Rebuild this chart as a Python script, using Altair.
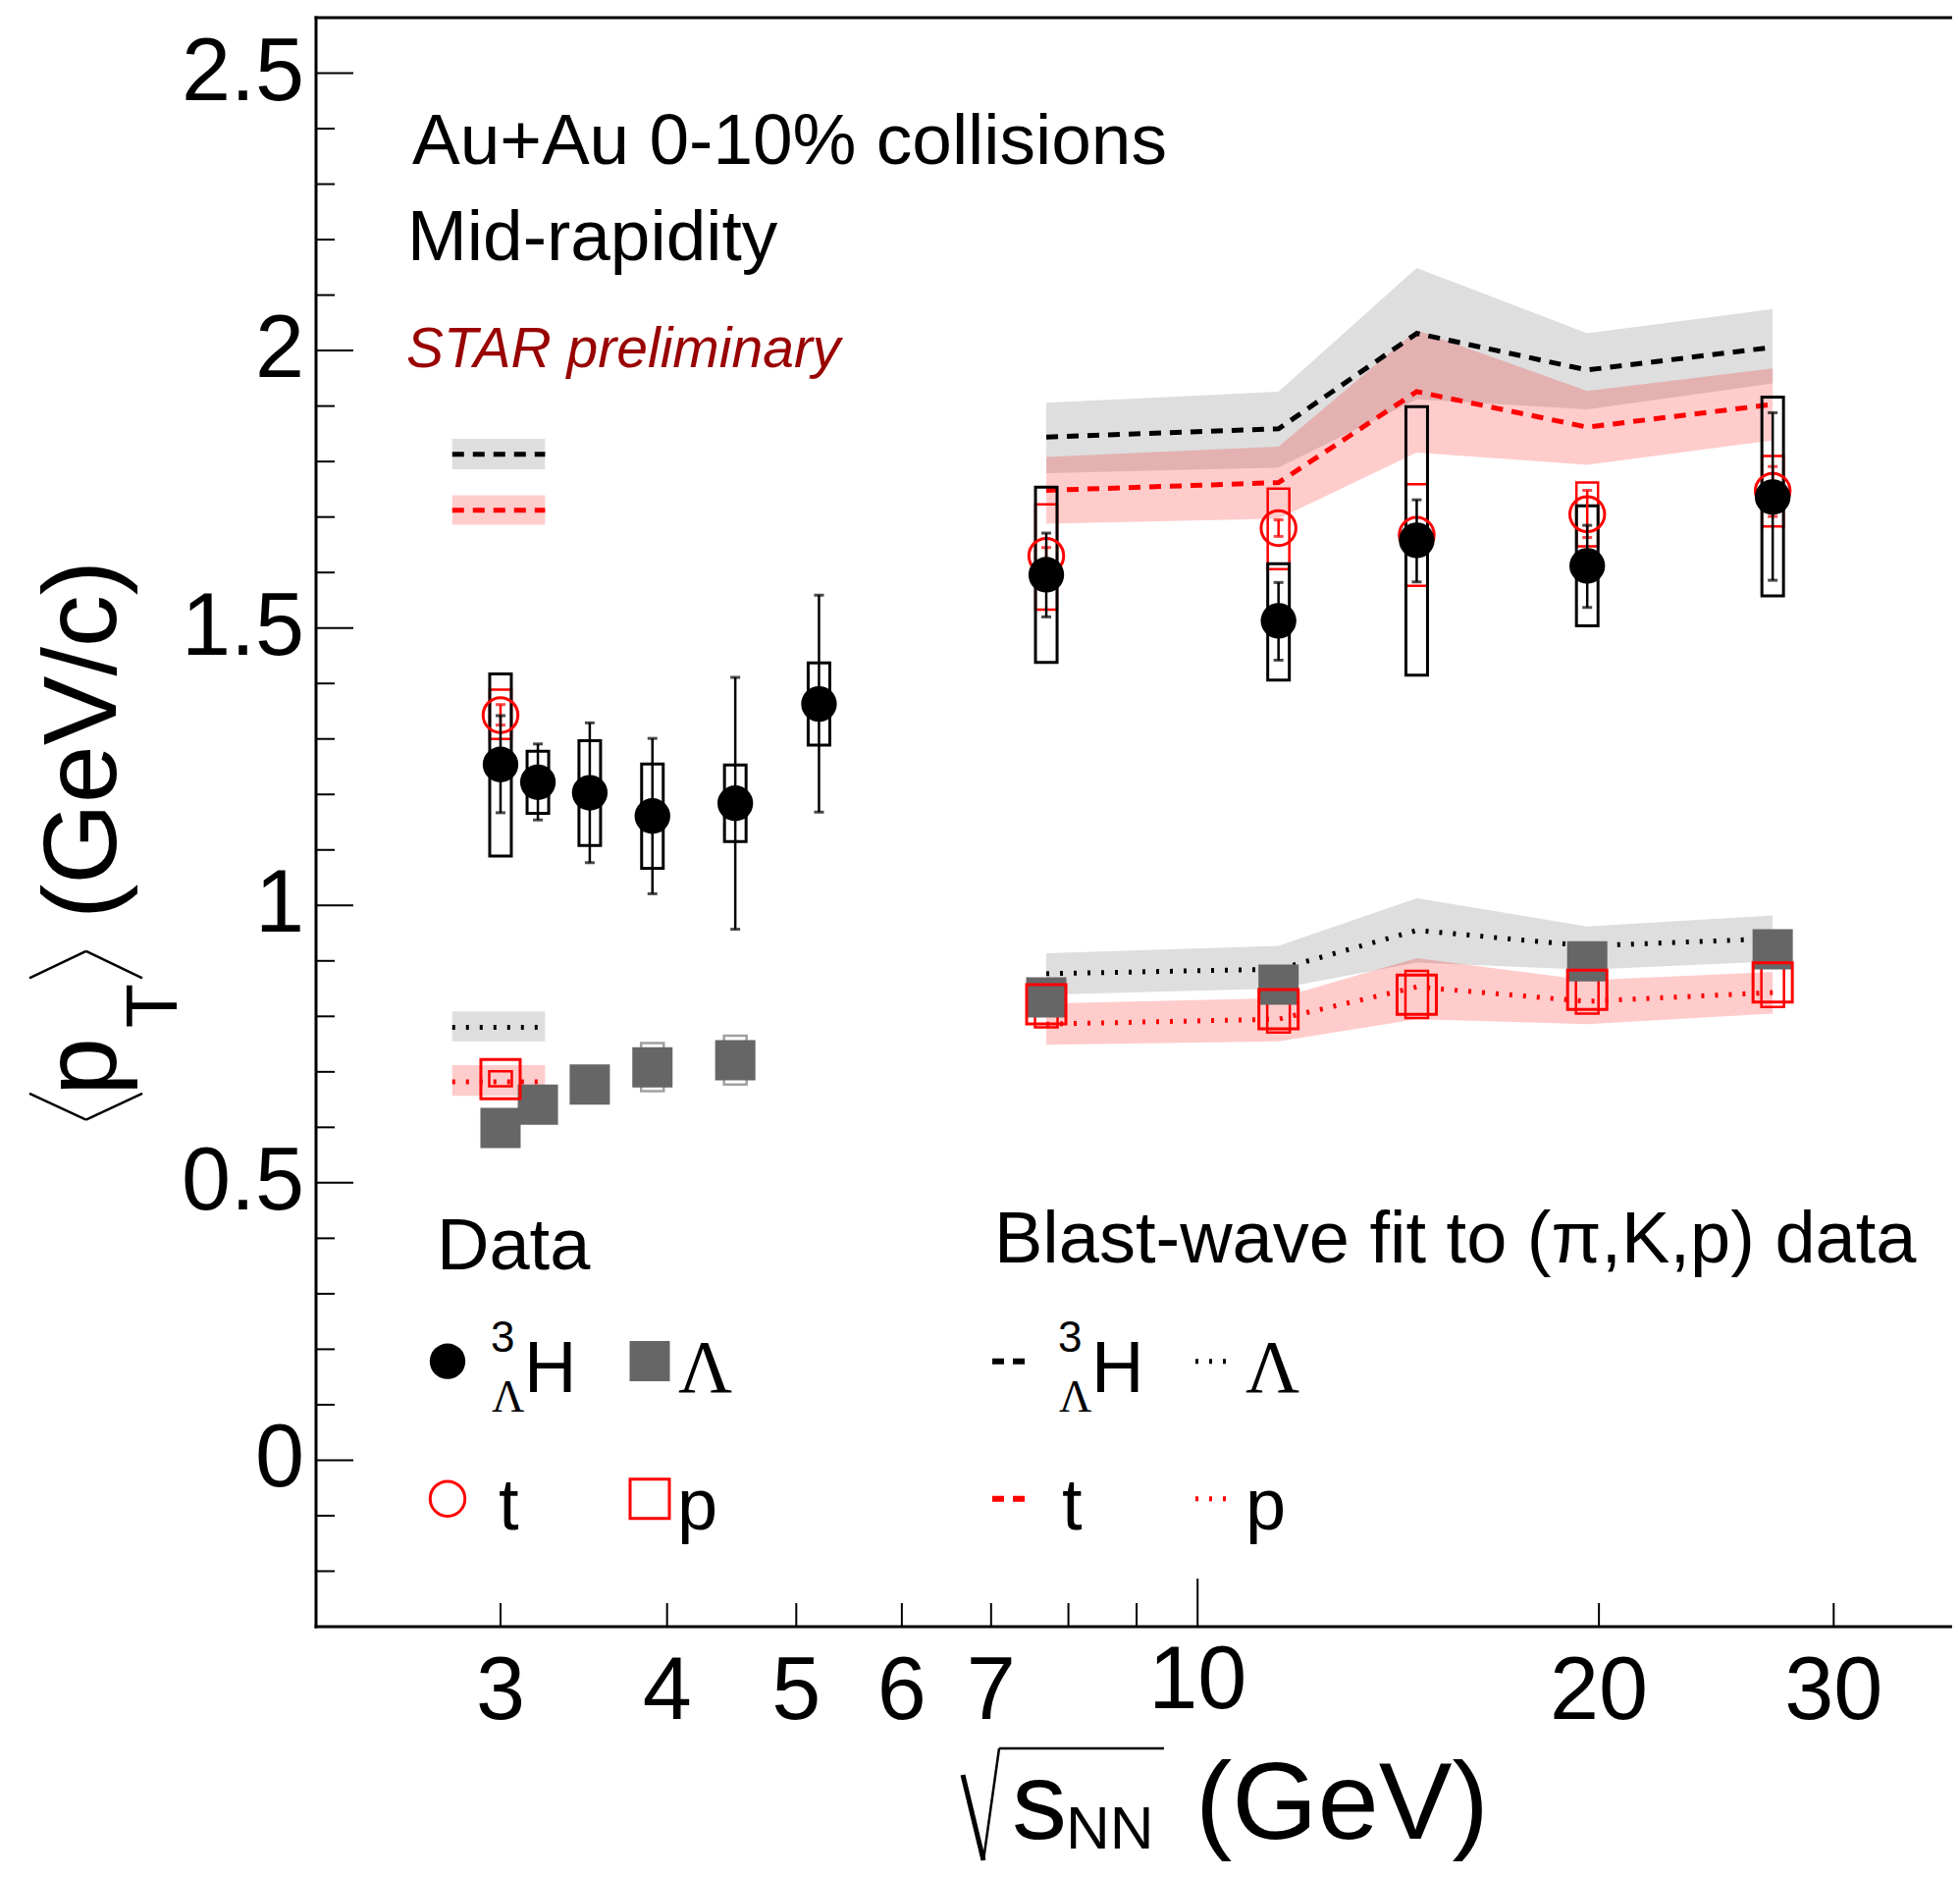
import altair as alt
import pandas as pd

FONT = "Liberation Sans"
SERIF = "Liberation Serif"

# ---------------- data ----------------
# Hypertriton <pT>
E_H = [3.0, 3.2, 3.5, 3.9, 4.5, 5.2, 7.7, 11.5, 14.6, 19.6, 27.0]
H_MEAN = [1.254, 1.222, 1.203, 1.161, 1.184, 1.363, 1.596, 1.513, 1.658, 1.612, 1.736]
H_STAT_LO = [1.167, 1.154, 1.077, 1.021, 0.957, 1.168, 1.520, 1.442, 1.583, 1.537, 1.586]
H_STAT_HI = [1.342, 1.291, 1.329, 1.301, 1.411, 1.559, 1.671, 1.582, 1.731, 1.685, 1.888]
H_SYS_LO = [1.089, 1.166, 1.108, 1.067, 1.115, 1.289, 1.438, 1.406, 1.415, 1.504, 1.558]
H_SYS_HI = [1.417, 1.278, 1.297, 1.255, 1.253, 1.437, 1.754, 1.616, 1.899, 1.720, 1.916]

# Triton <pT>
E_T = [3.0, 7.7, 11.5, 14.6, 19.6, 27.0]
T_MEAN = [1.343, 1.630, 1.680, 1.668, 1.705, 1.747]
T_STAT_LO = [1.325, 1.615, 1.665, 1.653, 1.663, 1.701]
T_STAT_HI = [1.362, 1.645, 1.695, 1.683, 1.748, 1.791]
T_SYS_LO = [1.300, 1.533, 1.606, 1.576, 1.647, 1.683]
T_SYS_HI = [1.389, 1.723, 1.751, 1.759, 1.762, 1.810]

# Lambda <pT>
E_L = [3.0, 3.2, 3.5, 3.9, 4.5, 7.7, 11.5, 19.6, 27.0]
L_MEAN = [0.599, 0.641, 0.677, 0.708, 0.721, 0.834, 0.857, 0.899, 0.921]
L_SYS_LO = [0.585, 0.625, 0.660, 0.665, 0.677, 0.820, 0.840, 0.880, 0.900]
L_SYS_HI = [0.615, 0.655, 0.695, 0.752, 0.765, 0.850, 0.870, 0.920, 0.940]

# Proton <pT>
E_P = [3.0, 7.7, 11.5, 14.6, 19.6, 27.0]
P_MEAN = [0.687, 0.822, 0.813, 0.839, 0.848, 0.861]
P_SYS_LO = [0.674, 0.780, 0.771, 0.797, 0.805, 0.817]
P_SYS_HI = [0.701, 0.863, 0.854, 0.882, 0.892, 0.905]

# Blast-wave predictions, BES energies
E_BW = [7.7, 11.5, 14.6, 19.6, 27.0]
BW_H = [1.844, 1.859, 2.031, 1.965, 2.006]
BW_H_LO = [1.779, 1.789, 1.912, 1.894, 1.941]
BW_H_HI = [1.906, 1.926, 2.149, 2.031, 2.075]
BW_T = [1.748, 1.762, 1.926, 1.862, 1.903]
BW_T_LO = [1.688, 1.697, 1.816, 1.794, 1.838]
BW_T_HI = [1.808, 1.827, 2.037, 1.927, 1.968]
BW_L = [0.877, 0.885, 0.955, 0.927, 0.940]
BW_L_LO = [0.839, 0.850, 0.897, 0.884, 0.899]
BW_L_HI = [0.914, 0.927, 1.013, 0.962, 0.982]
BW_P = [0.786, 0.795, 0.853, 0.827, 0.843]
BW_P_LO = [0.749, 0.755, 0.795, 0.786, 0.805]
BW_P_HI = [0.823, 0.833, 0.905, 0.865, 0.880]

# Blast-wave predictions at 3 GeV (short segments)
BW3_X = [2.76, 3.24]
BW3_SPECIES = ["H", "t", "L", "p"]
BW3_MEAN = [1.813, 1.712, 0.780, 0.682]
BW3_LO = [1.786, 1.686, 0.755, 0.657]
BW3_HI = [1.841, 1.739, 0.809, 0.712]

# axes
X_DOMAIN = [2.2, 36.5]
Y_DOMAIN = [-0.3, 2.6]
Y_MAJOR = [0, 0.5, 1, 1.5, 2, 2.5]
Y_LABELS = ["0", "0.5", "1", "1.5", "2", "2.5"]
Y_MINOR = [round(i * 0.1, 1) for i in range(-2, 26) if i % 5 != 0]
X_MINOR = [3, 4, 5, 6, 7, 8, 9, 20, 30]
X_MAJOR = [10]
X_LABELS_LOW = [3, 4, 5, 6, 7, 20, 30]
X_LABELS_HIGH = [10]

# ---------------- geometry ----------------
W, H = 1667, 1639
OX, OY = 322, 18  # page position of plot origin


def px(x):
    return x - OX


def py(y):
    return y - OY


X_SC = alt.Scale(type="log", domain=X_DOMAIN, nice=False)
Y_SC = alt.Scale(domain=Y_DOMAIN, nice=False, zero=False)


def X(f):
    return alt.X(f, type="quantitative", scale=X_SC, axis=None)


def Y(f):
    return alt.Y(f, type="quantitative", scale=Y_SC, axis=None)


ONE = alt.Data(values=[{"k": 0}])

h_df = pd.DataFrame({"e": E_H, "m": H_MEAN, "slo": H_STAT_LO, "shi": H_STAT_HI,
                     "ylo": H_SYS_LO, "yhi": H_SYS_HI})
t_df = pd.DataFrame({"e": E_T, "m": T_MEAN, "slo": T_STAT_LO, "shi": T_STAT_HI,
                     "ylo": T_SYS_LO, "yhi": T_SYS_HI})
l_df = pd.DataFrame({"e": E_L, "m": L_MEAN, "ylo": L_SYS_LO, "yhi": L_SYS_HI})
p_df = pd.DataFrame({"e": E_P, "m": P_MEAN, "ylo": P_SYS_LO, "yhi": P_SYS_HI})
bw_df = pd.DataFrame({"e": E_BW,
                      "h": BW_H, "hlo": BW_H_LO, "hhi": BW_H_HI,
                      "t": BW_T, "tlo": BW_T_LO, "thi": BW_T_HI,
                      "l": BW_L, "llo": BW_L_LO, "lhi": BW_L_HI,
                      "p": BW_P, "plo": BW_P_LO, "phi": BW_P_HI})
bw3_df = pd.DataFrame({"s": BW3_SPECIES, "m": BW3_MEAN, "lo": BW3_LO, "hi": BW3_HI,
                       "x1": [BW3_X[0]] * 4, "x2": [BW3_X[1]] * 4})

GRAY_BAND = "#dedede"
PINK = "#ff0000"
LGRAY = "#666666"
DASH = [12, 9]
DOT = [3, 11]

layers = []

# ---------------- bands ----------------
for lo, hi in [("hlo", "hhi"), ("llo", "lhi")]:
    layers.append(alt.Chart(bw_df).mark_area(color=GRAY_BAND, opacity=1).encode(
        x=X("e"), y=Y(lo), y2=alt.Y2(hi)))
for sp in ["H", "L"]:
    layers.append(alt.Chart(bw3_df).transform_filter(alt.datum.s == sp).mark_rect(
        color=GRAY_BAND, opacity=1).encode(x=X("x1"), x2=alt.X2("x2"), y=Y("lo"), y2=alt.Y2("hi")))
for lo, hi in [("tlo", "thi"), ("plo", "phi")]:
    layers.append(alt.Chart(bw_df).mark_area(color=PINK, opacity=0.2).encode(
        x=X("e"), y=Y(lo), y2=alt.Y2(hi)))
for sp in ["t", "p"]:
    layers.append(alt.Chart(bw3_df).transform_filter(alt.datum.s == sp).mark_rect(
        color=PINK, opacity=0.2).encode(x=X("x1"), x2=alt.X2("x2"), y=Y("lo"), y2=alt.Y2("hi")))

# ---------------- blast-wave lines ----------------
for col, color, dash in [("h", "black", DASH), ("t", "red", DASH), ("l", "black", DOT), ("p", "red", DOT)]:
    layers.append(alt.Chart(bw_df).mark_line(color=color, strokeWidth=5, strokeDash=dash).encode(
        x=X("e"), y=Y(col)))
for sp, color, dash in [("H", "black", DASH), ("t", "red", DASH), ("L", "black", DOT), ("p", "red", DOT)]:
    layers.append(alt.Chart(bw3_df).transform_filter(alt.datum.s == sp).mark_rule(
        color=color, strokeWidth=5, strokeDash=dash).encode(x=X("x1"), x2=alt.X2("x2"), y=Y("m")))

# ---------------- systematic boxes ----------------
layers.append(alt.Chart(t_df).mark_bar(size=22, fillOpacity=0, stroke="red", strokeWidth=2.5).encode(
    x=X("e"), y=Y("ylo"), y2=alt.Y2("yhi")))
layers.append(alt.Chart(p_df).mark_bar(size=23, fillOpacity=0, stroke="red", strokeWidth=2.5).encode(
    x=X("e"), y=Y("ylo"), y2=alt.Y2("yhi")))
layers.append(alt.Chart(l_df).mark_bar(size=23, fillOpacity=0, stroke="#a0a0a0", strokeWidth=2.5).encode(
    x=X("e"), y=Y("ylo"), y2=alt.Y2("yhi")))
layers.append(alt.Chart(h_df).mark_bar(size=22, fillOpacity=0, stroke="black", strokeWidth=3).encode(
    x=X("e"), y=Y("ylo"), y2=alt.Y2("yhi")))

# ---------------- markers ----------------
layers.append(alt.Chart(l_df).mark_point(shape="square", filled=True, size=1681, color=LGRAY, opacity=1).encode(
    x=X("e"), y=Y("m")))
layers.append(alt.Chart(p_df).mark_point(shape="square", filled=False, size=1600, color="red",
                                         strokeWidth=3, opacity=1).encode(x=X("e"), y=Y("m")))
layers.append(alt.Chart(t_df).mark_rule(color="red", strokeWidth=2.5).encode(
    x=X("e"), y=Y("slo"), y2=alt.Y2("shi")))
for f in ["slo", "shi"]:
    layers.append(alt.Chart(t_df).mark_tick(orient="horizontal", size=10, thickness=3, color="red").encode(
        x=X("e"), y=Y(f)))
layers.append(alt.Chart(t_df).mark_point(shape="circle", filled=False, size=1257, color="red",
                                         strokeWidth=3, opacity=1).encode(x=X("e"), y=Y("m")))
layers.append(alt.Chart(h_df).mark_rule(color="black", strokeWidth=2.5).encode(
    x=X("e"), y=Y("slo"), y2=alt.Y2("shi")))
for f in ["slo", "shi"]:
    layers.append(alt.Chart(h_df).mark_tick(orient="horizontal", size=10, thickness=3, color="black").encode(
        x=X("e"), y=Y(f)))
layers.append(alt.Chart(h_df).mark_point(shape="circle", filled=True, size=1320, color="black", opacity=1).encode(
    x=X("e"), y=Y("m")))

# ---------------- frame and ticks ----------------
frame = alt.Chart(ONE)
layers.append(frame.mark_rule(color="black", strokeWidth=3, strokeCap="square").encode(
    x=alt.value(0), x2=alt.value(W + 10), y=alt.value(0)))
layers.append(frame.mark_rule(color="black", strokeWidth=3, strokeCap="square").encode(
    x=alt.value(0), x2=alt.value(W + 10), y=alt.value(H)))
layers.append(frame.mark_rule(color="black", strokeWidth=3, strokeCap="square").encode(
    x=alt.value(0), y=alt.value(0), y2=alt.value(H)))

layers.append(alt.Chart(pd.DataFrame({"v": Y_MAJOR})).mark_rule(color="black", strokeWidth=2).encode(
    y=Y("v"), x=alt.value(0), x2=alt.value(38)))
layers.append(alt.Chart(pd.DataFrame({"v": Y_MINOR})).mark_rule(color="black", strokeWidth=2).encode(
    y=Y("v"), x=alt.value(0), x2=alt.value(19)))
layers.append(alt.Chart(pd.DataFrame({"v": X_MINOR})).mark_rule(color="black", strokeWidth=2).encode(
    x=X("v"), y=alt.value(H), y2=alt.value(H - 24)))
layers.append(alt.Chart(pd.DataFrame({"v": X_MAJOR})).mark_rule(color="black", strokeWidth=2).encode(
    x=X("v"), y=alt.value(H), y2=alt.value(H - 49)))

# tick labels
layers.append(alt.Chart(pd.DataFrame({"v": Y_MAJOR, "s": Y_LABELS})).mark_text(
    align="right", baseline="middle", fontSize=90, font=FONT, color="black").encode(
    y=Y("v"), x=alt.value(-12), text="s:N"))
layers.append(alt.Chart(pd.DataFrame({"v": X_LABELS_LOW, "s": [str(v) for v in X_LABELS_LOW]})).mark_text(
    align="center", baseline="alphabetic", fontSize=90, font=FONT, color="black").encode(
    x=X("v"), y=alt.value(py(1751)), text="s:N"))
layers.append(alt.Chart(pd.DataFrame({"v": X_LABELS_HIGH, "s": [str(v) for v in X_LABELS_HIGH]})).mark_text(
    align="center", baseline="alphabetic", fontSize=90, font=FONT, color="black").encode(
    x=X("v"), y=alt.value(py(1740)), text="s:N"))


# ---------------- free text helpers ----------------
def txt(s, x, y, size, font=FONT, color="black", align="left", angle=0, style="normal"):
    kw = dict(text=s, align=align, baseline="alphabetic", fontSize=size, font=font, color=color)
    if angle:
        kw["angle"] = angle
    if style != "normal":
        kw["fontStyle"] = style
    return alt.Chart(ONE).mark_text(**kw).encode(x=alt.value(px(x)), y=alt.value(py(y)))


def seg(x1, y1, x2, y2, w=2.5, color="black", dash=None):
    kw = dict(color=color, strokeWidth=w)
    if dash:
        kw["strokeDash"] = dash
    return alt.Chart(ONE).mark_rule(**kw).encode(
        x=alt.value(px(x1)), y=alt.value(py(y1)), x2=alt.value(px(x2)), y2=alt.value(py(y2)))


def marker(x, y, shape, size, color, filled):
    kw = dict(shape=shape, size=size, color=color, filled=filled, opacity=1)
    if not filled:
        kw["strokeWidth"] = 3
    return alt.Chart(ONE).mark_point(**kw).encode(x=alt.value(px(x)), y=alt.value(py(y)))


# header texts
layers.append(txt("Au+Au 0-10% collisions", 420, 167, 73))
layers.append(txt("Mid-rapidity", 415, 265, 73))
layers.append(txt("STAR preliminary", 414, 374, 57, color="#990000", style="italic"))

# y-axis title
layers.append(seg(87.7, 1140.6, 30, 1113.8))
layers.append(seg(87.7, 1140.6, 145, 1113.8))
layers.append(txt("p", 118, 1116, 106, angle=270))
layers.append(txt("T", 180, 1024.6, 74, angle=270, align="center"))
layers.append(seg(87.7, 968.8, 30, 996.4))
layers.append(seg(87.7, 968.8, 145, 996.4))
layers.append(txt("(GeV/c)", 118, 936, 106, angle=270))

# x-axis title
layers.append(seg(981, 1808, 1002, 1895, w=5))
layers.append(seg(1002, 1895, 1018, 1781, w=2.5))
layers.append(seg(1018, 1781, 1186, 1781, w=2.5))
layers.append(txt("s", 1031, 1873, 112))
layers.append(txt("NN", 1086, 1883, 62))
layers.append(txt("(GeV)", 1218, 1873, 112))

# legend: data
layers.append(txt("Data", 445, 1293, 74))
layers.append(marker(456, 1386.7, "circle", 1320, "black", True))
layers.append(txt("3", 500, 1377, 44))
layers.append(txt("Λ", 501, 1438, 46, font=SERIF))
layers.append(txt("H", 534, 1418, 74))
layers.append(marker(662, 1386.5, "square", 1681, LGRAY, True))
layers.append(txt("Λ", 691, 1418, 76, font=SERIF))
layers.append(marker(456, 1526.7, "circle", 1257, "red", False))
layers.append(txt("t", 508, 1558, 74))
layers.append(marker(662, 1526.7, "square", 1600, "red", False))
layers.append(txt("p", 690, 1558, 74))

# legend: blast-wave
layers.append(txt("Blast-wave fit to (π,K,p) data", 1013, 1286, 74))
layers.append(seg(1011, 1386.7, 1044, 1386.7, w=6, dash=DASH))
layers.append(txt("3", 1078, 1377, 44))
layers.append(txt("Λ", 1079, 1438, 46, font=SERIF))
layers.append(txt("H", 1112, 1418, 74))
layers.append(seg(1218, 1386.7, 1255, 1386.7, w=5, dash=DOT))
layers.append(txt("Λ", 1269, 1418, 76, font=SERIF))
layers.append(seg(1011, 1526.7, 1044, 1526.7, w=6, color="red", dash=DASH))
layers.append(txt("t", 1082, 1558, 74))
layers.append(seg(1218, 1526.7, 1255, 1526.7, w=5, color="red", dash=DOT))
layers.append(txt("p", 1269, 1558, 74))

chart = alt.layer(*layers).properties(
    width=W, height=H,
    autosize=alt.AutoSizeParams(type="none"),
    padding={"left": OX - 8, "top": OY - 8, "right": 0, "bottom": 241},
    background="white",
).configure_view(strokeWidth=0)

chart.save("out.html", embed_options={"renderer": "svg", "actions": False})
